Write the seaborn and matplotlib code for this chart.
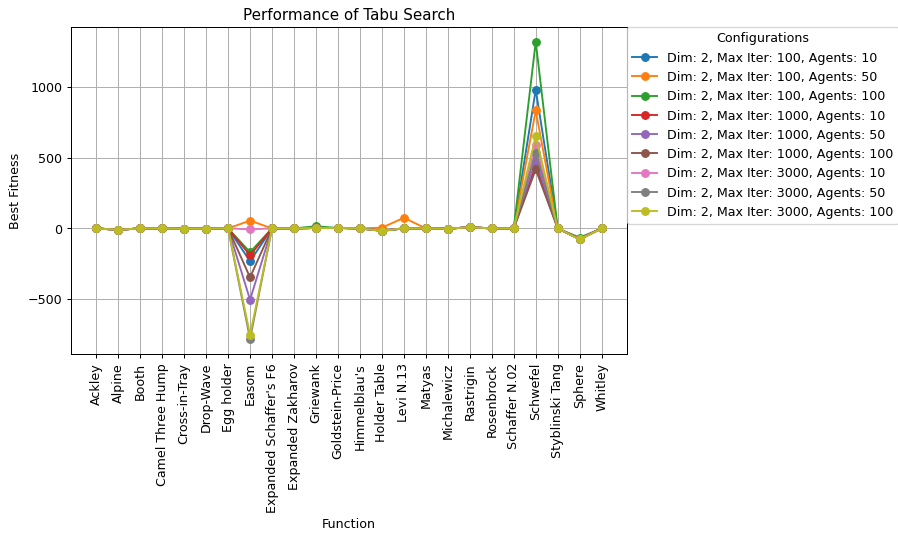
import matplotlib
matplotlib.use("Agg")
import matplotlib.pyplot as plt
import pandas as pd
import seaborn as sns

FUNCTIONS = ["Ackley", "Alpine", "Booth", "Camel Three Hump", "Cross-in-Tray",
             "Drop-Wave", "Egg holder", "Easom", "Expanded Schaffer's F6",
             "Expanded Zakharov", "Griewank", "Goldstein-Price", "Himmelblau's",
             "Holder Table", "Levi N.13", "Matyas", "Michalewicz", "Rastrigin",
             "Rosenbrock", "Schaffer N.02", "Schwefel", "Styblinski Tang",
             "Sphere", "Whitley"]

CONFIGS = ["Dim: 2, Max Iter: 100, Agents: 10",
           "Dim: 2, Max Iter: 100, Agents: 50",
           "Dim: 2, Max Iter: 100, Agents: 100",
           "Dim: 2, Max Iter: 1000, Agents: 10",
           "Dim: 2, Max Iter: 1000, Agents: 50",
           "Dim: 2, Max Iter: 1000, Agents: 100",
           "Dim: 2, Max Iter: 3000, Agents: 10",
           "Dim: 2, Max Iter: 3000, Agents: 50",
           "Dim: 2, Max Iter: 3000, Agents: 100"]

# best fitness per function, one list per configuration
it100_a10 = [0, -10, 0, 0, -2, -1, 0, -232, 0, 0, 3, 3, 0, -15, 0, 0, -2, 8, 0, 0, 980, 0, -75, 0]
it100_a50 = [0, -10, 0, 0, -2, -1, 0, 55, 0, 0, 3, 3, 0, 5, 75, 0, -2, 8, 0, 0, 833, 0, -75, 0]
it100_a100 = [0, -10, 0, 0, -2, -1, 0, -168, 0, 0, 15, 3, 0, -17, 0, 0, -2, 8, 0, 0, 1318, 0, -65, 0]
it1000_a10 = [0, -10, 0, 0, -2, -1, 0, -190, 0, 0, 3, 3, 0, -17, 0, 0, -2, 8, 0, 0, 447, 0, -75, 0]
it1000_a50 = [0, -10, 0, 0, -2, -1, 0, -504, 0, 0, 3, 3, 0, -17, 0, 0, -2, 8, 0, 0, 483, 0, -75, 0]
it1000_a100 = [0, -10, 0, 0, -2, -1, 0, -346, 0, 0, 3, 3, 0, -17, 0, 0, -2, 8, 0, 0, 417, 0, -75, 0]
it3000_a10 = [0, -10, 0, 0, -2, -1, 0, -7, 0, 0, 3, 3, 0, -17, 0, 0, -2, 8, 0, 0, 590, 0, -75, 0]
it3000_a50 = [0, -10, 0, 0, -2, -1, 0, -781, 0, 0, 3, 3, 0, -17, 0, 0, -2, 8, 0, 0, 535, 0, -78, 0]
it3000_a100 = [0, -10, 0, 0, -2, -1, 0, -752, 0, 0, 3, 3, 0, -17, 0, 0, -2, 8, 0, 0, 653, 0, -78, 0]

SERIES = [it100_a10, it100_a50, it100_a100, it1000_a10, it1000_a50,
          it1000_a100, it3000_a10, it3000_a50, it3000_a100]

rows = []
for cfg, vals in zip(CONFIGS, SERIES):
    for fn, v in zip(FUNCTIONS, vals):
        rows.append({"Function": fn, "Best Fitness": v, "Configuration": cfg})
df = pd.DataFrame(rows)

# the reference looks like a slightly downscaled render, so draw at 91 dpi
fig, ax = plt.subplots(figsize=(9.87, 5.86), dpi=91)
fig.subplots_adjust(left=0.079, right=0.698, top=0.949, bottom=0.336)

sns.lineplot(data=df, x="Function", y="Best Fitness", hue="Configuration",
             hue_order=CONFIGS, palette="tab10", marker="o", markersize=6,
             sort=False, ax=ax)
for line in ax.lines:
    line.set_markeredgecolor(line.get_color())
    line.set_markeredgewidth(1)

ax.set_title("Performance of Tabu Search", fontsize=12)
ax.set_xlabel("Function")
ax.set_ylabel("Best Fitness")
ax.tick_params(axis="x", rotation=90)
ax.grid(True, color="#b0b0b0", linewidth=0.8)
ax.set_axisbelow(True)

handles, labels = ax.get_legend_handles_labels()
for h in handles:
    h.set_markeredgecolor(h.get_color())
ax.legend(handles, labels, title="Configurations", loc="upper left",
          bbox_to_anchor=(1.0, 1.0), borderaxespad=0, fontsize=10,
          title_fontsize=10)

fig.savefig("out.png", dpi=91)
